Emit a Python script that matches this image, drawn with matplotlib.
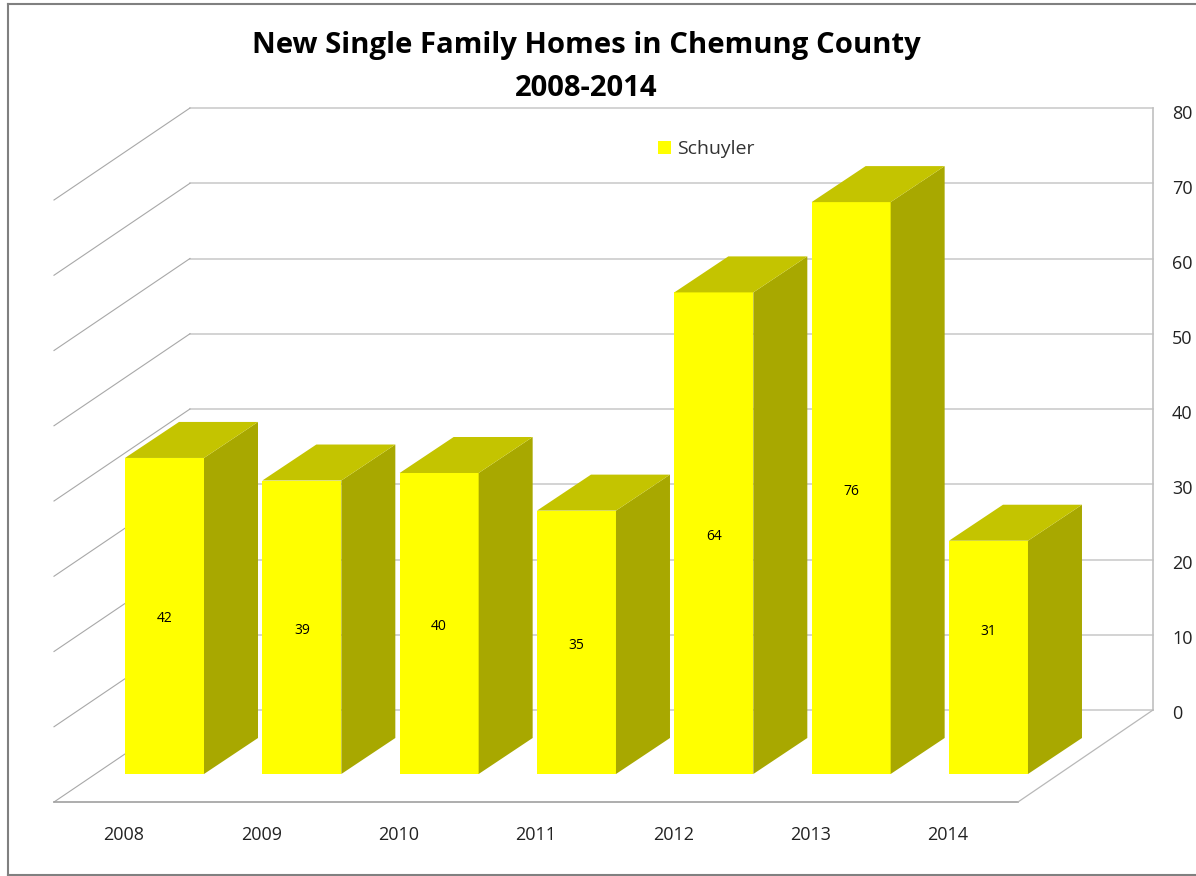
import matplotlib
matplotlib.use('Agg')
import matplotlib.pyplot as plt
from matplotlib.patches import Polygon, Patch
from matplotlib.lines import Line2D

years = ['2008', '2009', '2010', '2011', '2012', '2013', '2014']
homes = [42, 39, 40, 35, 64, 76, 31]
axis_ticks = [0, 10, 20, 30, 40, 50, 60, 70, 80]
series_name = 'Schuyler'

plt.rcParams['font.family'] = ['Open Sans', 'DejaVu Sans']

W, H = 1196, 876
X_STEP = 137.33    # px per category
Y_STEP = 7.525     # px per unit
X_ORIGIN = 164.5   # px of first bar centre
Y_ORIGIN = 774     # px of bar base


def dx(px):
    return px / X_STEP


def dy(px):
    return px / Y_STEP


fig = plt.figure(figsize=(W / 100, H / 100), dpi=100, facecolor='white')
ax = fig.add_axes([0, 0, 1, 1])
ax.set_xlim(dx(-X_ORIGIN), dx(W - X_ORIGIN))
ax.set_ylim(dy(Y_ORIGIN - H), dy(Y_ORIGIN))
ax.axis('off')

# box corners, in bar plane units
wall_left = dx(190 - X_ORIGIN)
wall_right = dx(1153 - X_ORIGIN)
floor_left = dx(54 - X_ORIGIN)
floor_right = dx(1018 - X_ORIGIN)
wall_base = dy(Y_ORIGIN - 710)
floor_base = dy(Y_ORIGIN - 802)

# gridlines on back wall and side wall
for t in axis_ticks:
    y = wall_base + t
    ax.plot([wall_left, wall_right], [y, y], color='#c8c8c8', lw=1.1, zorder=1)
    ax.plot([floor_left, wall_left], [y - wall_base + floor_base, y],
            color='#a8a8a8', lw=0.8, zorder=1)
    # labels drift from 2 px below the line at 0 to 4 px below at 80
    ax.text(dx(1172 - X_ORIGIN), y - dy(4 + t * 0.025), str(t), ha='left', va='center',
            fontsize=13, color='#222222', zorder=5)
ax.plot([wall_right, wall_right], [wall_base, wall_base + axis_ticks[-1]],
        color='#c0c0c0', lw=1.2, zorder=1)

# floor
ax.plot([floor_left, floor_right], [floor_base, floor_base], color='#a0a0a0', lw=1.2, zorder=1)
ax.plot([floor_right, wall_right], [floor_base, wall_base], color='#b8b8b8', lw=0.9, zorder=1)

# bars
half = dx(39.5)
depth_x = dx(54)
depth_y = dy(36)
for i, v in enumerate(homes):
    l, r = i - half, i + half
    ax.add_patch(Polygon([(l, 0), (r, 0), (r, v), (l, v)], fc='#ffff00', ec='none', zorder=3))
    ax.add_patch(Polygon([(r, 0), (r + depth_x, depth_y), (r + depth_x, v + depth_y), (r, v)],
                         fc='#a8a800', ec='none', zorder=3))
    ax.add_patch(Polygon([(l, v), (r, v), (r + depth_x, v + depth_y), (l + depth_x, v + depth_y)],
                         fc='#c4c400', ec='none', zorder=3))
    # the 2014 label sits higher than the middle of its bar in the original
    shift = 3.4 if years[i] == '2014' else -0.4
    ax.text(i, v / 2 + shift, str(v), ha='center', va='center', fontsize=10,
            color='black', zorder=5)
    ax.text(i - half + dx(-1), dy(Y_ORIGIN - 835), years[i], ha='center', va='center',
            fontsize=13, color='#222222', zorder=5)

fig.text(586 / W, 1 - 46 / H, 'New Single Family Homes in Chemung County',
         ha='center', va='center', fontsize=21.1, fontweight='bold', color='black')
fig.text(586 / W, 1 - 89 / H, '2008-2014',
         ha='center', va='center', fontsize=21.1, fontweight='bold', color='black')

ax.legend(handles=[Patch(fc='#ffff00', ec='none', label=series_name)],
          loc='center left', bbox_to_anchor=(658 / W, 1 - 149 / H),
          bbox_transform=fig.transFigure, frameon=False, fontsize=14,
          borderpad=0, borderaxespad=0,
          handlelength=0.67, handleheight=0.67, handletextpad=0.32, labelcolor='#333333')

# picture frame: left, top, bottom only
for xs, ys in [((8, 8), (4, 875)), ((8, W), (4, 4)), ((8, W), (875, 875))]:
    fig.add_artist(Line2D([x / W for x in xs], [1 - y / H for y in ys],
                          color='#808080', lw=1.5))

fig.savefig('out.png', dpi=100)
